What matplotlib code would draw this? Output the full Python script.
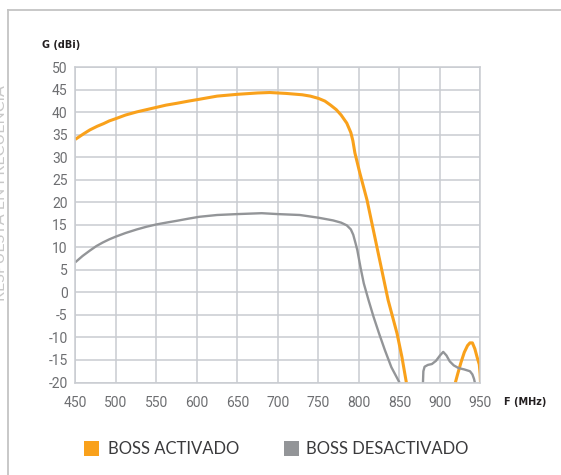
import matplotlib
matplotlib.use('Agg')
import matplotlib.pyplot as plt
from matplotlib.patches import Rectangle
from matplotlib.lines import Line2D

# frequency response
on_f = [450, 460, 468, 477, 485, 492, 500, 512, 526, 538, 550, 562, 575, 590, 603, 625, 650, 675,
        690, 710, 730, 740, 750, 758, 765, 772, 778, 785, 790, 792.5, 795, 801, 810, 823, 836, 847,
        853, 858.5]
on_g = [34.0, 35.2, 36.1, 36.9, 37.5, 38.1, 38.6, 39.4, 40.1, 40.6, 41.1, 41.6, 42.0, 42.5, 42.9,
        43.6, 44.0, 44.3, 44.4, 44.2, 43.9, 43.6, 43.1, 42.5, 41.6, 40.6, 39.4, 37.6, 35.5, 33.7, 31.0,
        26.6, 20.5, 9.4, -1.7, -9.1, -14.3, -20.0]
on_f2 = [919, 922, 926, 930, 934, 937, 940, 943, 946, 948.5, 949.5, 950]
on_g2 = [-20.0, -18.0, -15.5, -13.3, -11.8, -11.2, -11.2, -12.5, -14.5, -16.0, -18.0, -20.0]

off_f = [450, 459, 468, 476, 484, 492, 500, 512, 526, 538, 550, 562, 575, 590, 603, 625, 650, 680,
         700, 727, 750, 768, 778, 785, 790, 793, 796, 798, 802, 806, 812, 818, 825, 832, 840, 850]
off_g = [6.7, 8.1, 9.3, 10.3, 11.1, 11.8, 12.4, 13.2, 14.0, 14.6, 15.1, 15.5, 15.9, 16.4, 16.8, 17.2,
         17.4, 17.6, 17.4, 17.2, 16.6, 16.0, 15.5, 14.9, 14.0, 12.8, 10.8, 9.4, 5.5, 2.0, -1.8, -5.4,
         -9.2, -12.8, -16.6, -20.0]
off_f2 = [879, 879.5, 881, 885, 890, 895, 900, 904, 908, 912, 917, 923, 930, 937, 940, 942, 943]
off_g2 = [-20.0, -17.5, -16.5, -16.1, -15.9, -15.2, -14.0, -13.2, -14.0, -15.3, -16.2, -16.8, -17.1,
          -17.5, -18.2, -19.2, -20.0]

x_ticks = [450, 500, 550, 600, 650, 700, 750, 800, 850, 900, 950]
y_ticks = [50, 45, 40, 35, 30, 25, 20, 15, 10, 5, 0, -5, -10, -15, -20]
labels = ['BOSS ACTIVADO', 'BOSS DESACTIVADO']

orange = '#F9A11B'
grey = '#939598'
grid_c = '#C9CCD1'
tick_c = '#6D6E71'

plt.rcParams['axes.unicode_minus'] = False
plt.rcParams['font.family'] = ['Roboto', 'DejaVu Sans']

W, H = 561, 475
fig = plt.figure(figsize=[W / 100, H / 100], dpi=100)
ax = fig.add_axes([75.3 / W, 1 - 382.5 / H, 405.2 / W, 315.2 / H])

ax.plot(on_f, on_g, color=orange, lw=2.2, solid_capstyle='butt', solid_joinstyle='round')
ax.plot(on_f2, on_g2, color=orange, lw=2.2, solid_capstyle='butt', solid_joinstyle='round')
ax.plot(off_f, off_g, color=grey, lw=1.7, solid_capstyle='butt', solid_joinstyle='round')
ax.plot(off_f2, off_g2, color=grey, lw=1.7, solid_capstyle='butt', solid_joinstyle='round')

ax.set_xlim(450, 950)
ax.set_ylim(-20, 50)
ax.set_xticks(x_ticks)
ax.set_yticks(y_ticks)
ax.grid(True, color=grid_c, lw=1.1)
ax.set_axisbelow(True)
for s in ax.spines.values():
    s.set_color(grid_c)
    s.set_linewidth(1.1)
ax.tick_params(length=0, labelsize=10, colors=tick_c, pad=5.5)
ax.tick_params(axis='x', pad=10)

fig.text(41.5 / W, 1 - 45 / H, 'G (dBi)', fontsize=7, fontweight='bold', color='#231F20',
         family='DejaVu Sans', ha='left', va='center')
fig.text(504 / W, 1 - 402 / H, 'F (MHz)', fontsize=7, fontweight='bold', color='#231F20',
         family='DejaVu Sans', ha='left', va='center')

# legend
colors = [orange, grey]
sq_x = [84, 284]
txt_x = [108.5, 306.5]
for i, lab in enumerate(labels):
    fig.patches.append(Rectangle((sq_x[i] / W, 1 - 456 / H), 15 / W, 15 / H,
                                 transform=fig.transFigure, color=colors[i], lw=0))
    fig.text(txt_x[i] / W, 1 - 449 / H, lab, fontsize=12, color='#3A3A3C',
             family=['Lato', 'DejaVu Sans'], ha='left', va='center')

# frame and side title
fig.add_artist(Line2D([8 / W, 1], [1 - 9.5 / H] * 2, transform=fig.transFigure, color='#C4C4C4', lw=1.3))
fig.add_artist(Line2D([8 / W] * 2, [0, 1 - 9.5 / H], transform=fig.transFigure, color='#C4C4C4', lw=1.3))
fig.text(1 / W, 1 - 301 / H, 'RESPUESTA EN FRECUENCIA', rotation=90, fontsize=11.5, color='#C8C8C8',
         family=['Lato', 'DejaVu Sans'], ha='center', va='bottom')

fig.savefig('out.png', dpi=100)
